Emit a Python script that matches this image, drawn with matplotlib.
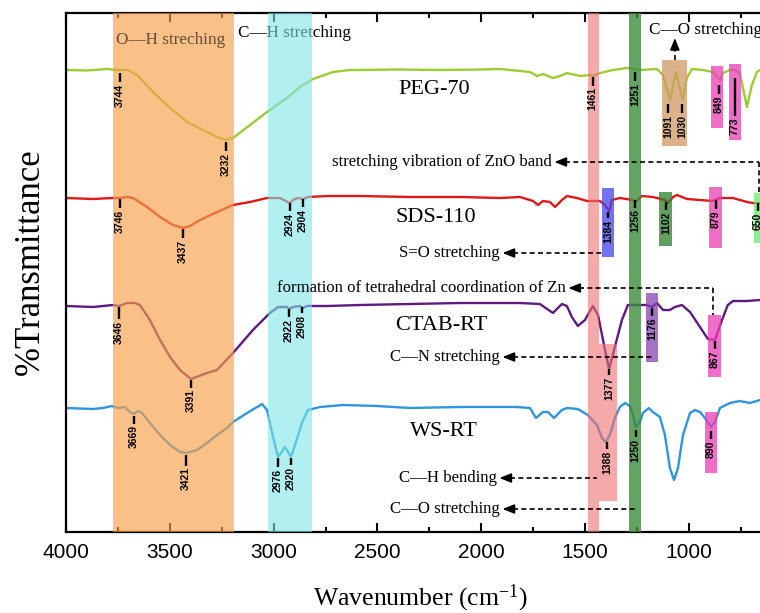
import matplotlib
matplotlib.use("Agg")
import matplotlib.pyplot as plt
from matplotlib.patches import Rectangle
from matplotlib.ticker import MultipleLocator

plt.rcParams['mathtext.fontset'] = 'custom'
plt.rcParams['mathtext.rm'] = 'Liberation Serif'
plt.rcParams['mathtext.default'] = 'regular'

SERIF = 'Liberation Serif'
SANS = 'Liberation Sans'

# ---------------- data (wavenumber, transmittance a.u.) ----------------
peg_wn = [4000, 3900, 3800, 3764, 3744, 3701, 3658, 3581, 3499, 3417, 3340, 3273, 3232, 3196, 3114,
          3032, 2936, 2873, 2811, 2714, 2633, 2584, 2400, 2200, 2000, 1910, 1766, 1732, 1703, 1655,
          1621, 1588, 1525, 1477, 1463, 1429, 1366, 1299, 1236, 1154, 1125, 1091, 1063, 1030, 1010,
          986, 933, 885, 849, 837, 803, 779, 755, 721, 697, 673, 658]
peg_t = [462, 461.5, 463, 462, 462, 462, 457, 440, 424, 410, 402, 395, 392, 394, 407,
         420, 434, 445, 453, 460, 462, 462, 462.5, 462, 462.5, 463, 460, 456, 458, 454,
         456, 459, 456, 457, 456, 459, 462, 464, 462, 463, 457, 432, 460, 432, 454,
         463, 462, 460, 452, 459, 462, 462, 459, 425, 447, 460, 462]

sds_wn = [4000, 3870, 3774, 3745, 3706, 3677, 3610, 3547, 3485, 3437, 3403, 3355, 3273, 3196, 3114,
          3032, 2970, 2922, 2907, 2883, 2859, 2835, 2743, 2584, 2344, 2100, 1910, 1814, 1751, 1727,
          1703, 1670, 1645, 1612, 1588, 1540, 1491, 1429, 1405, 1384, 1371, 1333, 1270, 1256, 1227,
          1174, 1116, 1101, 1077, 1058, 1010, 947, 885, 851, 788, 721, 692, 658]
sds_t = [334, 333, 334, 334, 335, 334, 325, 315, 307, 304, 306, 312, 320, 327, 330,
         334, 334, 329, 332, 334, 333, 335, 336, 336, 335, 335, 334, 335, 331, 327,
         331, 330, 325, 332, 336, 334, 331, 331, 327, 321, 332, 334, 332, 330, 336,
         335, 332, 329, 335, 337, 333, 332, 331, 334, 334, 330, 329, 329]

ctab_wn = [4000, 3870, 3774, 3745, 3706, 3668, 3644, 3596, 3547, 3499, 3451, 3398, 3321, 3273, 3196,
           3100, 3018, 2979, 2936, 2926, 2907, 2873, 2859, 2840, 2743, 2584, 2344, 2100, 1910, 1814,
           1718, 1655, 1612, 1588, 1564, 1535, 1501, 1463, 1438, 1414, 1385, 1357, 1323, 1294, 1236,
           1203, 1178, 1154, 1125, 1092, 1068, 1034, 995, 947, 909, 875, 841, 813, 788, 721, 658]
ctab_t = [226, 225, 227, 226, 229, 229, 227, 212, 192, 175, 162, 153, 159, 162, 179,
          202, 219, 225, 225, 223, 225, 226, 224, 226, 226, 227, 228, 229, 229, 229,
          228, 219, 228, 226, 215, 206, 212, 226, 217, 192, 163, 185, 212, 227, 227,
          227, 225, 229, 222, 222, 225, 227, 220, 205, 193, 192, 212, 227, 231, 231, 232]

ws_wn = [4000, 3870, 3822, 3779, 3750, 3716, 3692, 3673, 3653, 3634, 3596, 3547, 3499, 3451, 3421,
         3369, 3321, 3273, 3225, 3196, 3128, 3056, 3032, 3003, 2979, 2955, 2946, 2936, 2917, 2897,
         2864, 2835, 2777, 2666, 2503, 2344, 2100, 1910, 1828, 1766, 1737, 1703, 1679, 1650, 1612,
         1588, 1535, 1487, 1443, 1419, 1400, 1381, 1357, 1333, 1308, 1284, 1270, 1256, 1236, 1222,
         1193, 1174, 1140, 1116, 1092, 1072, 1053, 1029, 995, 971, 947, 923, 894, 875, 851,
         803, 755, 707, 658]
ws_t = [124, 123, 124, 126, 124, 125, 120, 118, 121, 119, 109, 97, 87, 80, 79,
        82, 89, 97, 104, 110, 119, 128, 122, 95, 75, 82, 85, 82, 75, 87,
        109, 122, 125, 127, 126, 124, 125, 125, 125, 124, 114, 120, 120, 114, 122,
        124, 123, 117, 107, 94, 90, 97, 114, 125, 129, 126, 117, 105, 110, 119,
        124, 120, 115, 97, 64, 52, 64, 97, 119, 122, 120, 114, 105, 110, 124,
        129, 131, 129, 132]

series_names = ["PEG-70", "SDS-110", "CTAB-RT", "WS-RT"]
series_colors = ["#9ACD32", "#E01818", "#5E1A80", "#2E96DC"]

# peak labels: (text, wavenumber position, anchor transmittance, tick length)
peg_peaks = [("3744", 3740, 459, 9), ("3232", 3230, 390, 9), ("1461", 1463, 455, 9), ("1251", 1260, 460, 9),
             ("1091", 1101, 428, 9), ("1030", 1034, 428, 9), ("849", 856, 447, 9), ("773", 779, 454, 38)]
sds_peaks = [("3746", 3740, 333, 9), ("3437", 3437, 303, 9), ("2924", 2922, 329, 8), ("2904", 2859, 333, 8),
             ("1384", 1390, 320, 6), ("1256", 1260, 332, 8), ("1102", 1111, 330, 8), ("879", 870, 332, 9),
             ("650", 668, 329, 8)]
ctab_peaks = [("3646", 3745, 225, 12), ("3391", 3398, 152, 8), ("2922", 2926, 223, 8), ("2908", 2864, 225, 6),
              ("1377", 1385, 163, 6), ("1176", 1178, 224, 8), ("867", 875, 191, 8)]
ws_peaks = [("3669", 3673, 116, 8), ("3421", 3422, 77, 11), ("2976", 2979, 74, 9), ("2920", 2917, 74, 7),
            ("1388", 1395, 90, 7), ("1250", 1256, 102, 7), ("890", 894, 101, 8)]

# full-height assignment bands: (wn_from, wn_to, colour, alpha)
bands = [(3774, 3191, "#F7A049", 0.65), (3027, 2816, "#7FE5E8", 0.6),
         (1486, 1433, "#F07070", 0.6), (1288, 1230, "#3C8C3C", 0.8)]

# small highlight boxes: (wn_from, wn_to, t_bottom, t_top, colour, alpha)
boxes = [(1129, 1010, 386, 472, "#D19963", 0.75), (894, 837, 404, 466, "#EB3EB5", 0.75),
         (808, 750, 392, 468, "#EB3EB5", 0.75), (1419, 1361, 275, 344, "#4444EB", 0.75),
         (1145, 1082, 286, 340, "#2A802A", 0.75), (904, 841, 284, 345, "#EB3EB5", 0.75),
         (687, 600, 289, 339, "#6BE86B", 0.75), (1207, 1150, 170, 239, "#8744AF", 0.75),
         (909, 846, 155, 217, "#EB3EB5", 0.75), (1433, 1347, 31, 188, "#F07070", 0.6),
         (923, 865, 59, 120, "#EB3EB5", 0.75)]

# ---------------- figure ----------------
fig = plt.figure(figsize=(7.6, 6.13), dpi=100)
ax = fig.add_axes([66 / 760, 1 - 532 / 613, 694 / 760, 519 / 613])

curves = [(peg_wn, peg_t), (sds_wn, sds_t), (ctab_wn, ctab_t), (ws_wn, ws_t)]
for (wn, t), col in zip(curves, series_colors):
    ax.plot(wn, t, color=col, lw=1.7, solid_joinstyle='round', zorder=2)

for w1, w2, c, a in bands:
    ax.axvspan(w2, w1, color=c, alpha=a, lw=0, zorder=3)
for w1, w2, y0, y1, c, a in boxes:
    ax.add_patch(Rectangle((min(w1, w2), y0), abs(w1 - w2), y1 - y0, facecolor=c,
                           alpha=a, lw=0, zorder=3))

for peaks in (peg_peaks, sds_peaks, ctab_peaks, ws_peaks):
    for txt, w, y, d in peaks:
        ax.plot([w, w], [y, y - d], color='k', lw=1.7, zorder=6, solid_capstyle='butt')
        ax.text(w, y - d - 1.5, txt, rotation=90, ha='center', va='top', fontsize=7.5,
                fontweight='bold', family=SANS, zorder=6)

# series names
name_pos = [(2228, 442), (2218, 315), (2194, 207), (2180, 100)]
for nm, (x, y) in zip(series_names, name_pos):
    ax.text(x, y, nm, ha='center', va='center', fontsize=16, family=SERIF, zorder=2)

# band titles
ax.text(3494, 492, "O\u2014H streching", ha='center', va='center', fontsize=12.3, family=SERIF,
        color='k', alpha=0.6, zorder=4)
ax.text(3172, 499, "C\u2014H stretching", ha='left', va='center', fontsize=12.3, family=SERIF,
        color='k', zorder=2)
ax.text(1193, 502, "C\u2014O stretching", ha='left', va='center', fontsize=12.3, family=SERIF, zorder=5)

dash = (0, (3, 2))
ap = dict(arrowstyle='-|>,head_length=0.7,head_width=0.28', color='k', lw=1.2, shrinkA=0, shrinkB=0)

# C-O stretching (top), vertical arrow upward
ax.plot([1068, 1068], [472, 487], color='k', lw=1.2, ls=dash, zorder=5)
ax.annotate('', xy=(1068, 494), xytext=(1068, 486), arrowprops=ap, zorder=5)

# horizontal notes with arrows: (text, text right end wn, y, dashed line end wn, drop-to y or None)
notes = [("stretching vibration of ZnO band", 1660, 370, 663, 339),
         ("S=O stretching", 1910, 279, 1410, None),
         ("formation of tetrahedral coordination of Zn", 1593, 244, 882, 217),
         ("C\u2014N stretching", 1910, 175, 1178, None),
         ("C\u2014H bending", 1925, 54, 1443, None),
         ("C\u2014O stretching", 1910, 23, 1251, None)]
for txt, xr, y, xend, ydrop in notes:
    ax.text(xr, y, txt, ha='right', va='center', fontsize=12.1, family=SERIF, zorder=5)
    tip = xr - 12
    ax.plot([tip - 50, xend], [y, y], color='k', lw=1.2, ls=dash, zorder=5)
    ax.annotate('', xy=(tip, y), xytext=(tip - 55, y), arrowprops=ap, zorder=5)
    if ydrop is not None:
        ax.plot([xend, xend], [y, ydrop], color='k', lw=1.2, ls=dash, zorder=5)

# ---------------- axes styling ----------------
ax.set_xlim(4000, 658)
ax.set_ylim(0, 519)
ax.set_yticks([])
ax.spines['right'].set_visible(False)
for s in ('left', 'top', 'bottom'):
    ax.spines[s].set_linewidth(1.6)
ax.xaxis.set_major_locator(MultipleLocator(500))
ax.xaxis.set_minor_locator(MultipleLocator(250))
ax.tick_params(axis='x', which='both', direction='in', top=True, width=1.5)
ax.tick_params(axis='x', which='major', length=6.5, pad=8, labelsize=15)
ax.tick_params(axis='x', which='minor', length=3.5)
for lab in ax.get_xticklabels():
    lab.set_family(SANS)

ax.set_xlabel("Wavenumber (cm$^{-1}$)", fontsize=18.5, family=SERIF)
ax.xaxis.set_label_coords(0.51, -0.098)
ax.set_ylabel("%Transmittance", fontsize=25, family=SERIF)
ax.yaxis.set_label_coords(-0.028, 0.52)

fig.savefig("out.png", dpi=100)
